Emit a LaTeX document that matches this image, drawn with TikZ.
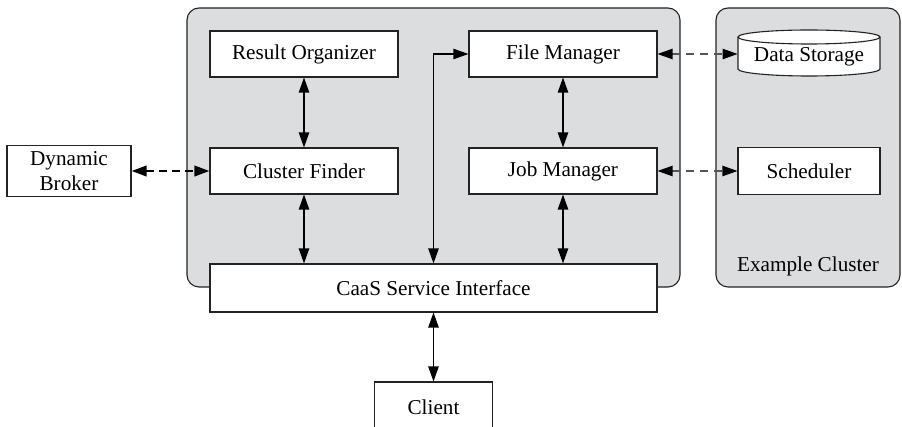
\documentclass[tikz,border=0pt]{standalone}
\usepackage{fontspec}
\setmainfont{Liberation Serif}
\usetikzlibrary{arrows.meta}

\definecolor{panelgray}{RGB}{220,221,223}
\definecolor{linkgray}{RGB}{85,85,85}
\definecolor{inkgray}{RGB}{35,35,35}

\begin{document}
\begin{tikzpicture}[x=0.5pt, y=0.5pt,
  font=\fontsize{10.6}{12.6}\selectfont,
  block/.style={draw=inkgray, fill=white, line width=0.55pt, inner sep=0pt,
    minimum width=94pt, minimum height=23pt},
  panel/.style={draw=inkgray, fill=panelgray, line width=0.55pt, rounded corners=6pt},
  dual/.style={{Triangle[length=7.5pt,width=5.2pt,color=black]}-{Triangle[length=7.5pt,width=5.2pt,color=black]},
    line width=0.6pt},
  link/.style={dual, dash pattern=on 4pt off 3pt, draw=linkgray},
  brokerlink/.style={dual, line width=1.2pt, dash pattern=on 4pt off 2.5pt}]
  \useasboundingbox (0,0) rectangle (902,-427);

  % Grey panels
  \draw[panel] (187,-8) rectangle (680,-287);
  \draw[panel] (716,-8) rectangle (900,-287);

  % Service blocks
  \node[block] (ro) at (304,-54) {Result Organizer};
  \node[block] (fm) at (563,-54) {File Manager};
  \node[block] (cf) at (304,-171) {Cluster Finder};
  \node[block] (jm) at (563,-171) {Job Manager};
  \node[block, minimum width=223.5pt, minimum height=24pt] (csi) at (433.5,-288) {CaaS Service Interface};
  \node[block, minimum width=59pt, minimum height=25pt] (cl) at (433.5,-407) {Client};
  \node[block, minimum width=62pt, minimum height=25.5pt, align=center] (db) at (69,-171) {Dynamic\\Broker};

  % Example cluster
  \draw[draw=inkgray, fill=white, line width=0.55pt] (738,-37) -- (738,-69)
    arc[start angle=180, end angle=360, x radius=71, y radius=7] -- (880,-37)
    arc[start angle=0, end angle=180, x radius=71, y radius=7] -- cycle;
  \draw[draw=inkgray, line width=0.55pt] (738,-37) arc[start angle=180, end angle=360, x radius=71, y radius=7];
  \node[minimum width=71pt, inner sep=0pt] (ds) at (809,-57) {Data Storage};
  \node[block, minimum width=71pt, minimum height=23.5pt] (sch) at (809,-171) {Scheduler};
  \node (ec) at (808,-266) {Example Cluster};

  % Connectors
  \draw[dual] (ro) -- (cf);
  \draw[dual] (fm) -- (jm);
  \draw[dual] (cf) -- (cf |- csi.north);
  \draw[dual] (jm) -- (jm |- csi.north);
  \draw[dual] (csi.north) -- (csi.north |- fm.west) -- (fm.west);
  \draw[dual] (csi) -- (cl);
  \draw[brokerlink] (db) -- (cf);
  \draw[link] (fm) -- (fm -| ds.west);
  \draw[link] (jm) -- (sch);
\end{tikzpicture}
\end{document}
